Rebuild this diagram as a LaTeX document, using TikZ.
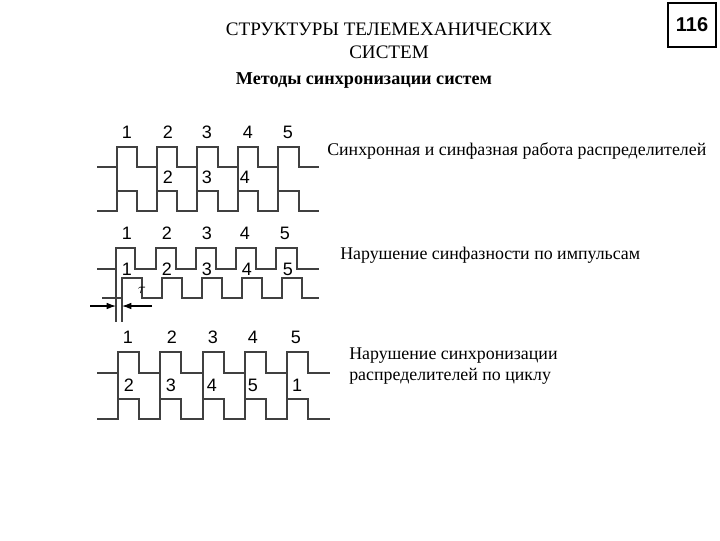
\documentclass[tikz,border=0pt]{standalone}
\usepackage{fontspec}
\setmainfont{Liberation Serif}
\newfontfamily\arialf{Liberation Sans}
\usetikzlibrary{arrows.meta}
\begin{document}
\begin{tikzpicture}[x=0.75pt,y=-0.75pt,
  wave/.style={line width=1.1pt,draw=black!75},
  num/.style={font=\arialf\fontsize{13.5}{13.5}\selectfont,inner sep=0pt},
  lbl/.style={font=\fontsize{13.4}{16}\selectfont,inner sep=0pt,anchor=west}]
\useasboundingbox (0,0) rectangle (720,540);
\fill[white] (0,0) rectangle (720,540);
% titles
\node[font=\fontsize{14.3}{17}\selectfont,align=center,inner sep=0pt] (title) at (389,41) {СТРУКТУРЫ ТЕЛЕМЕХАНИЧЕСКИХ\\СИСТЕМ};
\node[draw,line width=1pt,inner sep=0pt,minimum width=36pt,minimum height=33pt,font=\arialf\bfseries\fontsize{15}{15}\selectfont] (pg) at (692,25) {116};
\node[font=\bfseries\fontsize{13.6}{16}\selectfont,inner sep=0pt] (sub) at (364,80) {Методы синхронизации систем};
\node[lbl] (t1) at (327,151) {Синхронная и синфазная работа распределителей};
\node[lbl] (t2) at (340,255) {Нарушение синфазности по импульсам};
\node[lbl,align=left] (t3) at (349,366) {Нарушение синхронизации\\распределителей по циклу};
% diagram 1
\draw[wave] (97,167) \foreach \a/\b in {117/137,157/177,197/218,238/258,278/299}{ -- (\a,167) -- (\a,147) -- (\b,147) -- (\b,167)} -- (319,167);
\draw[wave] (97,211) \foreach \a/\b in {117/137,157/177,197/218,238/258,278/299}{ -- (\a,211) -- (\a,191) -- (\b,191) -- (\b,211)} -- (319,211);
\foreach \a in {117,157,197,238,278} \draw[wave] (\a,167) -- (\a,191);
\foreach \x/\t in {127/1,168/2,207/3,248/4,288/5} \node[num] (a\t) at (\x,132) {\t};
\foreach \x/\t in {168/2,207/3,245/4} \node[num] (b\t) at (\x,177) {\t};
% diagram 2
\draw[wave] (97,269) \foreach \a/\b in {116/135,156/176,196/216,236/256,276/297}{ -- (\a,269) -- (\a,248) -- (\b,248) -- (\b,269)} -- (319,269);
\draw[wave] (102,298) \foreach \a/\b in {122/142,162/182,202/222,242/262,282/302}{ -- (\a,298) -- (\a,278) -- (\b,278) -- (\b,298)} -- (319,298);
\foreach \x/\t in {127/1,167/2,207/3,245/4,285/5} \node[num] (c\t) at (\x,233) {\t};
\foreach \x/\t in {127/1,167/2,207/3,247/4,288/5} \node[num] (d\t) at (\x,269) {\t};
\coordinate (l1) at (116,322); \coordinate (l2) at (122,322);
\draw[wave,line width=0.8pt] (116,269) -- (l1);
\draw[wave,line width=0.8pt] (122,298) -- (l2);
\coordinate (ar1) at (90,306); \coordinate (ar2) at (152,306);
\draw[-{Latex[length=7pt,width=5pt]},line width=0.8pt] (ar1) -- (116,306);
\draw[-{Latex[length=7pt,width=5pt]},line width=0.8pt] (ar2) -- (122,306);
\node[font=\fontsize{11}{11}\selectfont,inner sep=0pt] (tau) at (142,290) {$\tau$};
% diagram 3
\draw[wave] (97,373) \foreach \a/\b in {118/139,160/181,203/224,245/266,287/308}{ -- (\a,373) -- (\a,352) -- (\b,352) -- (\b,373)} -- (330,373);
\draw[wave] (97,419) \foreach \a/\b in {118/139,160/181,203/224,245/266,287/308}{ -- (\a,419) -- (\a,399) -- (\b,399) -- (\b,419)} -- (330,419);
\foreach \a in {118,160,203,245,287} \draw[wave] (\a,373) -- (\a,399);
\foreach \x/\t in {128/1,172/2,213/3,253/4,296/5} \node[num] (e\t) at (\x,337) {\t};
\foreach \x/\t/\n in {129/2/a,171/3/b,212/4/c,253/5/d,297/1/e} \node[num] (f\n) at (\x,385) {\t};
\end{tikzpicture}
\end{document}
